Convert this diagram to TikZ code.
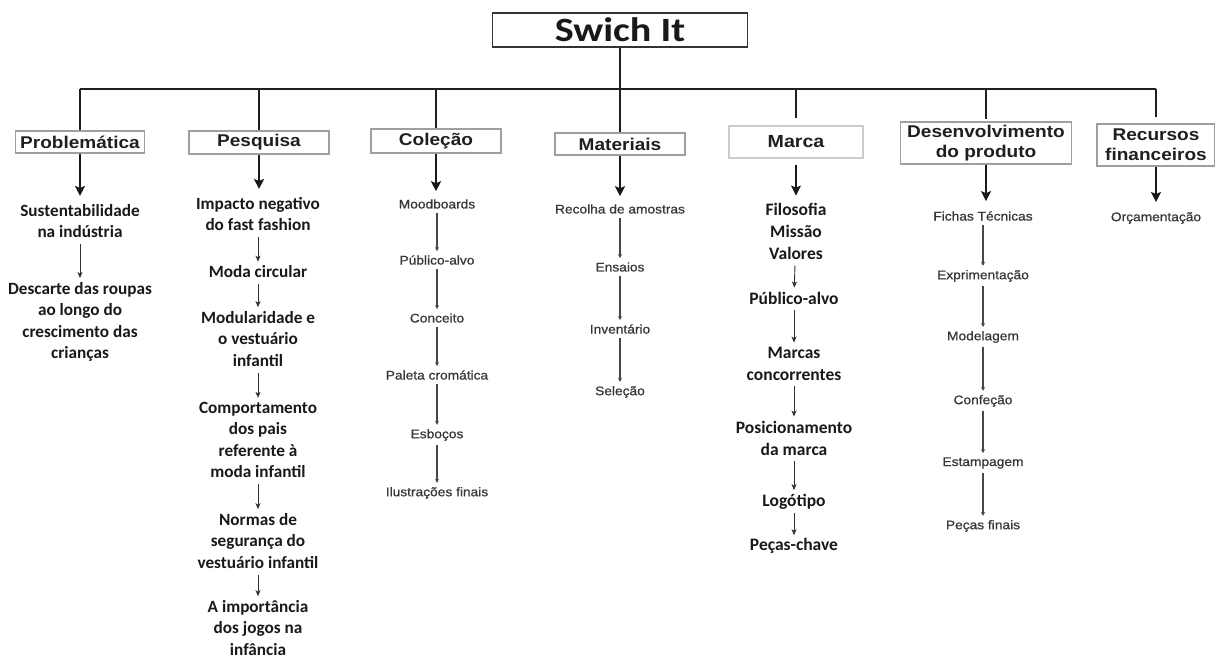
\documentclass[tikz,border=0pt]{standalone}
\usepackage{fontspec}
\usetikzlibrary{arrows.meta}
\newfontfamily\calb{Carlito}
\newfontfamily\calt{Carlito}[FakeStretch=1.18]
\newfontfamily\arw{Liberation Sans}[FakeStretch=1.12]
\newfontfamily\arl{Liberation Sans}[FakeStretch=1.1,FakeBold=0.8]
\begin{document}
\begin{tikzpicture}[x=1pt,y=-1pt,
  tree/.style={draw=black!88,line width=1.6pt},
  titlebox/.style={draw=black!80,line width=1.4pt,minimum width=255pt,minimum height=34pt,inner sep=0pt,
     font=\calt\bfseries\fontsize{34}{36}\selectfont,text=black!90},
  box/.style={draw=gray!75,line width=1.3pt,inner sep=0pt,align=center,
     font=\arw\bfseries\fontsize{17}{20}\selectfont,text=black!88},
  heavy/.style={-{Stealth[length=10pt,width=10pt,inset=2pt]},line width=1.6pt,draw=black!90},
  thinarr/.style={-{Stealth[length=6pt,width=5pt,inset=1.5pt]},line width=0.9pt,draw=black!80,shorten <=6pt,shorten >=4pt},
  greyarr/.style={-{Stealth[length=4pt,width=4pt]},line width=1.1pt,draw=black!72,shorten <=4pt,shorten >=4pt},
  calitem/.style={font=\calb\bfseries\fontsize{17.2}{21.5}\selectfont,align=center,inner sep=0pt,text=black!90},
  marcaitem/.style={font=\calb\bfseries\fontsize{17.5}{22}\selectfont,align=center,inner sep=0pt,text=black!90},
  aritem/.style={font=\arl\fontsize{12.5}{15}\selectfont,inner sep=0pt,text=black!78}
]
\useasboundingbox (0,0) rectangle (1215,661);
\fill[white] (0,0) rectangle (1215,661);

% root and boxes
\node[titlebox] (root) at (620,30) {Swich It};
\coordinate (bus) at (620,89);
\node[box,minimum width=129pt,minimum height=22pt] (prob) at (80,142) {Problemática};
\node[box,minimum width=140pt,minimum height=23pt] (pesq) at (259,142.5) {Pesquisa};
\node[box,minimum width=130pt,minimum height=24pt] (col) at (436,141) {Coleção};
\node[box,minimum width=130pt,minimum height=22pt] (mat) at (620,144) {Materiais};
\node[box,draw=gray!40,minimum width=134pt,minimum height=32pt,font=\arw\bfseries\fontsize{17.5}{20}\selectfont] (marca) at (796,142) {Marca};
\node[box,minimum width=171pt,minimum height=42pt] (des) at (986,143) {Desenvolvimento\\do produto};
\node[box,minimum width=118pt,minimum height=42pt] (rec) at (1156,145) {Recursos\\financeiros};

% tree
\draw[tree] (root.south) -- (mat.north);
\draw[tree] (prob.north |- bus) -- (rec.north |- bus);
\draw[tree] (prob.north |- bus) -- (prob.north);
\draw[tree] (pesq.north |- bus) -- (pesq.north);
\draw[tree] (col.north |- bus) -- (col.north);
\draw[tree,shorten >=7pt] (marca.north |- bus) -- (marca.north);
\draw[tree,shorten >=2pt] (des.north |- bus) -- (des.north);
\draw[tree,shorten >=6pt] (rec.north |- bus) -- (rec.north);

% Problematica column
\node[calitem] (p1) at (80,221) {Sustentabilidade\\na indústria};
\node[calitem] (p2) at (80,322) {Descarte das roupas\\ao longo do\\crescimento das\\crianças};
% Pesquisa column
\node[calitem] (q1) at (258,214) {Impacto negativo\\do fast fashion};
\node[calitem] (q2) at (258,272) {Moda circular};
\node[calitem] (q3) at (258,339) {Modularidade e\\o vestuário\\infantil};
\node[calitem] (q4) at (258,440) {Comportamento\\dos pais\\referente à\\moda infantil};
\node[calitem] (q5) at (258,541) {Normas de\\segurança do\\vestuário infantil};
\node[calitem] (q6) at (258,628) {A importância\\dos jogos na\\infância};
% Colecao column
\node[aritem] (c1) at (437,204) {Moodboards};
\node[aritem] (c2) at (437,260) {Público-alvo};
\node[aritem] (c3) at (437,318) {Conceito};
\node[aritem] (c4) at (437,375) {Paleta cromática};
\node[aritem] (c5) at (437,435) {Esboços};
\node[aritem] (c6) at (437,493) {Ilustrações finais};
% Materiais column
\node[aritem] (m1) at (620,209) {Recolha de amostras};
\node[aritem] (m2) at (620,267) {Ensaios};
\node[aritem] (m3) at (620,329) {Inventário};
\node[aritem] (m4) at (620,392) {Seleção};
% Marca column
\node[marcaitem] (k1) at (796,231) {Filosofia\\Missão\\Valores};
\node[marcaitem] (k2) at (794,298) {Público-alvo};
\node[marcaitem] (k3) at (794,363.5) {Marcas\\concorrentes};
\node[marcaitem] (k4) at (794,438) {Posicionamento\\da marca};
\node[marcaitem] (k5) at (794,502) {Logótipo};
\node[marcaitem] (k6) at (794,546) {Peças-chave};
% Desenvolvimento column
\node[aritem] (d1) at (983,216) {Fichas Técnicas};
\node[aritem] (d2) at (983,276) {Exprimentação};
\node[aritem] (d3) at (983,337) {Modelagem};
\node[aritem] (d4) at (983,401) {Confeção};
\node[aritem] (d5) at (983,463) {Estampagem};
\node[aritem] (d6) at (983,526) {Peças finais};
% Recursos column
\node[aritem] (r1) at (1156,218) {Orçamentação};

% heavy arrows from boxes
\draw[heavy,shorten >=8pt] (prob.south) -- (p1);
\draw[heavy,shorten >=8pt] (pesq.south) -- (pesq.south |- q1.north);
\draw[heavy,shorten >=8pt] (col.south) -- (col.south |- c1.north);
\draw[heavy,shorten >=8pt] (mat.south) -- (m1);
\draw[heavy,shorten <=6pt,shorten >=7pt] (marca.south) -- (marca.south |- k1.north);
\draw[heavy,shorten >=10pt] (des.south) -- (des.south |- d1.north);
\draw[heavy,shorten >=10pt] (rec.south) -- (r1);

% thin arrows
\draw[thinarr] (p1) -- (p2);
\draw[thinarr] (q1) -- (q2);
\draw[thinarr] (q2) -- (q3);
\draw[thinarr] (q3) -- (q4);
\draw[thinarr] (q4) -- (q5);
\draw[thinarr] (q5) -- (q6);
\draw[thinarr] (k1) -- (k2);
\draw[thinarr] (k2) -- (k3);
\draw[thinarr] (k3) -- (k4);
\draw[thinarr] (k4) -- (k5);
\draw[thinarr,shorten <=3pt,shorten >=3pt] (k5) -- (k6);

\draw[greyarr] (c1) -- (c2);
\draw[greyarr] (c2) -- (c3);
\draw[greyarr] (c3) -- (c4);
\draw[greyarr] (c4) -- (c5);
\draw[greyarr] (c5) -- (c6);
\draw[greyarr] (m1) -- (m2);
\draw[greyarr] (m2) -- (m3);
\draw[greyarr] (m3) -- (m4);
\draw[greyarr] (d1) -- (d2);
\draw[greyarr] (d2) -- (d3);
\draw[greyarr] (d3) -- (d4);
\draw[greyarr] (d4) -- (d5);
\draw[greyarr] (d5) -- (d6);
\end{tikzpicture}
\end{document}
